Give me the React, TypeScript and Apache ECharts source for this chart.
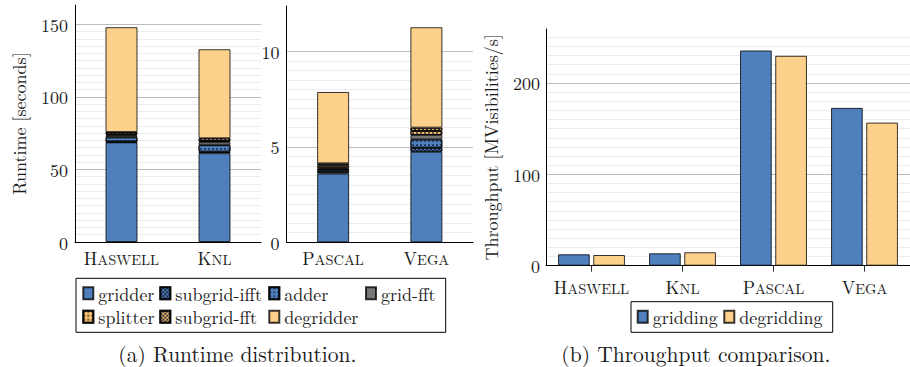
import React, { useEffect, useRef } from "react";
import * as echarts from "echarts";

// ---------- data ----------
const cpuArchs = ["Haswell", "KNL"];
const gpuArchs = ["Pascal", "Vega"];
const allArchs = ["Haswell", "KNL", "Pascal", "Vega"];
const kernels = ["gridder", "subgrid-ifft", "adder", "grid-fft", "splitter", "subgrid-fft", "degridder"];
// runtime [s], order: Haswell, KNL, Pascal, Vega
const gridderRt = [68.7, 61.2, 3.6, 4.74];
const subgridIfftRt = [0.5, 1.0, 0.12, 0.21];
const adderRt = [3.0, 4.6, 0.12, 0.44];
const gridFftRt = [1.2, 2.0, 0.06, 0.23];
const splitterRt = [0.8, 0.8, 0.12, 0.21];
const subgridFftRt = [1.6, 1.9, 0.11, 0.17];
const degridderRt = [72.3, 61.4, 3.74, 5.26];
// throughput [MVisibilities/s]
const throughputSeries = ["gridding", "degridding"];
const griddingTp = [12.5, 13.6, 235.5, 172.7];
const degriddingTp = [11.7, 14.7, 229.7, 156.6];
// tick labels
const cpuTicks = [0, 50, 100, 150];
const gpuTicks = [0, 5, 10];
const tpTicks = [0, 100, 200];

const runtimeByKernel: Record<string, number[]> = {
  gridder: gridderRt,
  "subgrid-ifft": subgridIfftRt,
  adder: adderRt,
  "grid-fft": gridFftRt,
  splitter: splitterRt,
  "subgrid-fft": subgridFftRt,
  degridder: degridderRt,
};

// ---------- styles ----------
const FONT = "'Latin Modern Roman', 'Liberation Serif', serif";
const TXT = "#1a1a1a";
const FS = 18;
const BLUE = "#4f7fbc";
const ORANGE = "#fdd08b";
const ORANGE2 = "#f9c068";
const GREY = "#787878";
const MAJOR = "#bdbdbd";
const MINOR = "#ececec";
const BORDER = "rgba(0,0,0,0.78)";

const checker = {
  symbol: "rect",
  symbolSize: 1,
  color: "rgba(15,25,50,0.85)",
  dashArrayX: [[2, 2], [0, 2, 2, 0]],
  dashArrayY: [2, 0],
};
const dots = {
  symbol: "circle",
  symbolSize: 0.9,
  color: "rgba(15,25,50,0.85)",
  dashArrayX: [2, 2],
  dashArrayY: [2, 2],
};

const kernelStyle: Record<string, any> = {
  gridder: { color: BLUE },
  "subgrid-ifft": { color: BLUE, decal: checker },
  adder: { color: BLUE, decal: dots },
  "grid-fft": { color: GREY },
  splitter: { color: ORANGE2, decal: dots },
  "subgrid-fft": { color: ORANGE2, decal: checker },
  degridder: { color: ORANGE },
};

function splitColors(max: number, step: number, majors: number[], minorAbove: number) {
  const arr: string[] = [];
  const n = Math.floor(max / step + 1e-9);
  for (let i = 0; i <= n; i++) {
    const v = i * step;
    const isMajor = majors.some((m) => Math.abs(m - v) < 1e-6);
    if (v > minorAbove + 1e-6) arr.push("rgba(0,0,0,0)");
    else arr.push(isMajor ? MAJOR : MINOR);
  }
  arr.push("rgba(0,0,0,0)");
  return arr;
}

function scLabel(v: string) {
  return `{a|${v[0]}}{b|${v.slice(1).toUpperCase()}}`;
}
const richSc = {
  a: { fontFamily: FONT, fontSize: 18, color: TXT, verticalAlign: "bottom" },
  b: { fontFamily: FONT, fontSize: 14.5, color: TXT, verticalAlign: "bottom" },
};

function valueAxis(grid: number, max: number, step: number, majors: number[], minorAbove: number, name: string, nameGap: number, labelMargin: number) {
  return {
    type: "value",
    gridIndex: grid,
    min: 0,
    max,
    interval: step,
    name,
    nameLocation: "middle",
    nameGap,
    nameTextStyle: { fontFamily: FONT, fontSize: FS, color: TXT },
    axisLine: { show: true, lineStyle: { color: "#000", width: 1 } },
    axisTick: { show: false },
    axisLabel: {
      margin: labelMargin,
      fontFamily: FONT,
      fontSize: FS,
      color: TXT,
      formatter: (v: number) => (majors.some((m) => Math.abs(m - v) < 1e-6) ? String(Math.round(v)) : ""),
    },
    splitLine: { show: true, lineStyle: { color: splitColors(max, step, majors, minorAbove), width: 1 } },
  };
}

function catAxis(grid: number, data: string[], ticks: boolean, margin: number) {
  return {
    type: "category",
    gridIndex: grid,
    data,
    axisLine: { show: true, lineStyle: { color: "#000", width: 1 } },
    axisTick: { show: ticks, alignWithLabel: true, length: 6, lineStyle: { color: "#333" } },
    axisLabel: { interval: 0, margin, formatter: scLabel, rich: richSc },
    splitLine: { show: false },
  };
}

export default function App() {
  const ref = useRef<HTMLDivElement>(null);
  useEffect(() => {
    if (!ref.current) return;
    const chart = echarts.init(ref.current, undefined, { renderer: "svg" });

    const series: any[] = [];
    kernels.forEach((k) => {
      const vals = runtimeByKernel[k];
      const st = kernelStyle[k];
      series.push({
        type: "bar",
        name: k,
        stack: "cpu",
        xAxisIndex: 0,
        yAxisIndex: 0,
        barWidth: 32,
        data: [vals[0], vals[1]],
        itemStyle: { ...st, borderColor: BORDER, borderWidth: 1 },
      });
      series.push({
        type: "bar",
        name: k,
        stack: "gpu",
        xAxisIndex: 1,
        yAxisIndex: 1,
        barWidth: 32,
        data: [vals[2], vals[3]],
        itemStyle: { ...st, borderColor: BORDER, borderWidth: 1 },
      });
    });
    series.push({
      type: "bar",
      name: throughputSeries[0],
      xAxisIndex: 2,
      yAxisIndex: 2,
      barWidth: 31.7,
      barGap: "11%",
      data: griddingTp,
      itemStyle: { color: BLUE, borderColor: BORDER, borderWidth: 1 },
    });
    series.push({
      type: "bar",
      name: throughputSeries[1],
      xAxisIndex: 2,
      yAxisIndex: 2,
      barWidth: 31.7,
      barGap: "11%",
      data: degriddingTp,
      itemStyle: { color: ORANGE, borderColor: BORDER, borderWidth: 1 },
    });

    const legendPos: [string, number, number][] = [
      ["gridder", 82.3, 293.3],
      ["subgrid-ifft", 159.3, 293.3],
      ["adder", 268.3, 293.3],
      ["grid-fft", 365, 293.3],
      ["splitter", 82.3, 316.7],
      ["subgrid-fft", 159.3, 316.7],
      ["degridder", 268.3, 316.7],
      ["gridding", 636.7, 316.7],
      ["degridding", 723.3, 316.7],
    ];
    const legends = legendPos.map(([n, x, y]) => ({
      data: [n],
      left: x,
      top: y - 9,
      padding: 0,
      itemWidth: 10,
      itemHeight: 12,
      icon: "rect",
      selectedMode: false,
      textStyle: { fontFamily: FONT, fontSize: FS, color: TXT },
    }));

    chart.setOption({
      animation: false,
      backgroundColor: "#fff",
      grid: [
        { left: 75, top: 5, width: 186, height: 237 },
        { left: 286.5, top: 6, width: 186.5, height: 236.3 },
        { left: 546, top: 29, width: 372, height: 236.7 },
      ],
      xAxis: [catAxis(0, cpuArchs, false, 6), catAxis(1, gpuArchs, false, 6), catAxis(2, allArchs, true, 12)],
      yAxis: [
        valueAxis(0, 163.4, 5, cpuTicks, 150, "Runtime [seconds]", 48, 7),
        valueAxis(1, 12.37, 0.5, gpuTicks, 10, "", 40, 7),
        valueAxis(2, 259, 10, tpTicks, 250, "Throughput [MVisibilities/s]", 47, 6),
      ],
      legend: legends,
      series,
      graphic: [
        { type: "rect", shape: { x: 76, y: 278.3, width: 369.7, height: 54 }, style: { fill: "none", stroke: "#000", lineWidth: 1 } },
        { type: "rect", shape: { x: 631, y: 301.7, width: 201.7, height: 30.6 }, style: { fill: "none", stroke: "#000", lineWidth: 1 } },
        { type: "text", x: 237.4, y: 352.5, style: { text: "(a) Runtime distribution.", fontFamily: FONT, fontSize: 21.5, fill: TXT, align: "center", verticalAlign: "middle" } },
        { type: "text", x: 695.9, y: 352.5, style: { text: "(b) Throughput comparison.", fontFamily: FONT, fontSize: 21.5, fill: TXT, align: "center", verticalAlign: "middle" } },
      ],
    });
    return () => chart.dispose();
  }, []);
  return <div ref={ref} style={{ position: "absolute", left: 0, top: 0, width: 910, height: 367 }} />;
}
